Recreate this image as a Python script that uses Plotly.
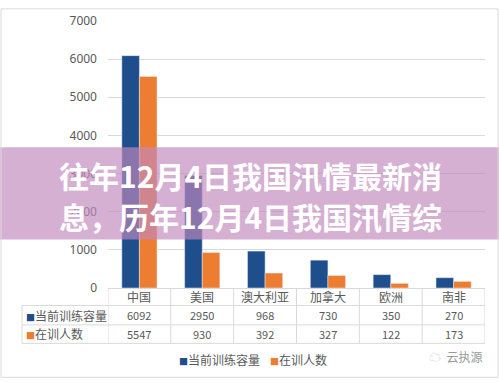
import plotly.graph_objects as go

# ---- data ----
categories = ["中国", "美国", "澳大利亚", "加拿大", "欧洲", "南非"]
capacity = [6092, 2950, 968, 730, 350, 270]
trainees = [5547, 930, 392, 327, 122, 173]
series_names = ["当前训练容量", "在训人数"]
y_ticks = [0, 1000, 2000, 3000, 4000, 5000, 6000, 7000]
title_lines = ["往年12月4日我国汛情最新消", "息，历年12月4日我国汛情综"]
watermark = "云执源"

# ---- styling ----
W, H = 499, 382
L, R, T, B = 108, 485, 13, 288
BLUE = "#1F4E8C"
ORANGE = "#ED7D31"
GREY = "#595959"
LINE = "#D9D9D9"
FONT = "Noto Sans CJK SC"


def fx(px):
    return (px - L) / (R - L)


def fy(py):
    return (B - py) / (B - T)


fig = go.Figure()
fig.add_trace(go.Bar(x=categories, y=capacity, name=series_names[0],
                     marker_color=BLUE, showlegend=False))
fig.add_trace(go.Bar(x=categories, y=trainees, name=series_names[1],
                     marker_color=ORANGE, showlegend=False))

shapes = []
annotations = []


def note(x, y, text, size, color=GREY, xref="paper", xanchor="center", **kw):
    annotations.append(dict(x=x, xref=xref, y=y, yref="paper", text=text,
                            xanchor=xanchor, yanchor="middle", showarrow=False,
                            font=dict(size=size, color=color, family=FONT), **kw))


# table grid
row_lines = [306, 326, 345]
for yy in row_lines:
    shapes.append(dict(type="line", xref="paper", yref="paper",
                       x0=fx(22), x1=fx(R), y0=fy(yy), y1=fy(yy),
                       line=dict(color=LINE, width=1)))
for i in range(len(categories) + 1):
    shapes.append(dict(type="line", xref="x", yref="paper",
                       x0=i - 0.5, x1=i - 0.5, y0=fy(B), y1=fy(345),
                       line=dict(color=LINE, width=1)))
shapes.append(dict(type="line", xref="paper", yref="paper",
                   x0=fx(22), x1=fx(22), y0=fy(306), y1=fy(345),
                   line=dict(color=LINE, width=1)))

# table text
for i, c in enumerate(categories):
    note(c, fy(297), c, 12, xref="x")
    note(c, fy(316), str(capacity[i]), 11, xref="x")
    note(c, fy(335), str(trainees[i]), 11, xref="x")

for name, col, yy in [(series_names[0], BLUE, 316), (series_names[1], ORANGE, 335)]:
    note(fx(24), fy(yy), f"<span style='color:{col};font-size:9px'>■</span>{name}", 12,
         xanchor="left")

# legend at bottom
note(fx(177), fy(362), f"<span style='color:{BLUE};font-size:9px'>■</span>{series_names[0]}", 12,
     xanchor="left")
note(fx(268), fy(362), f"<span style='color:{ORANGE};font-size:9px'>■</span>{series_names[1]}", 12,
     xanchor="left")

# watermark
note(fx(484), fy(359), "<span style='color:#C8C8C8'>☁</span>  " + watermark, 12,
     color="#9A9A9A", xanchor="right")

# translucent band with title text
shapes.append(dict(type="rect", xref="paper", yref="paper", layer="above",
                   x0=fx(0), x1=fx(W), y0=fy(238), y1=fy(143),
                   fillcolor="rgba(193,136,189,0.665)", line=dict(width=0)))
for txt, yy in zip(title_lines, [172, 214]):
    note(fx(250), fy(yy), f"<b>{txt}</b>", 30, color="white")

# outer frame
shapes.append(dict(type="rect", xref="paper", yref="paper", layer="above",
                   x0=fx(1), x1=fx(498), y0=fy(380), y1=fy(0.5),
                   fillcolor="rgba(0,0,0,0)", line=dict(color=LINE, width=1)))

fig.update_layout(
    width=W, height=H,
    margin=dict(l=L, r=W - R, t=T, b=H - B, pad=0),
    paper_bgcolor="white", plot_bgcolor="white",
    barmode="group", bargap=0.44, bargroupgap=0,
    font=dict(family=FONT, color=GREY),
    xaxis=dict(showticklabels=False, range=[-0.5, 5.5], showline=True,
               linecolor=LINE, linewidth=1, ticks="", showgrid=False, fixedrange=True),
    yaxis=dict(range=[0, 7000], tickvals=y_ticks, showgrid=True, gridcolor=LINE,
               gridwidth=1, zeroline=False, showline=False, ticks="",
               ticklabelstandoff=10, tickfont=dict(size=12, color=GREY, family="Noto Sans"),
               fixedrange=True),
    shapes=shapes,
    annotations=annotations,
)

fig.write_html("out.html", config={"displayModeBar": False},
               post_script="document.body.style.margin='0';document.body.style.overflow='hidden';")
